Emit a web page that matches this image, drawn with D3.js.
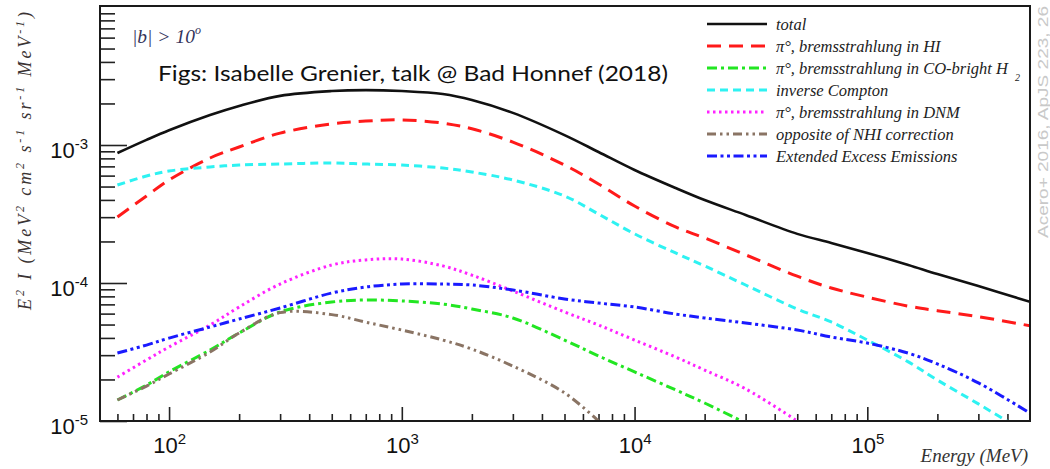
<!DOCTYPE html>
<html>
<head>
<meta charset="utf-8">
<script src="https://cdnjs.cloudflare.com/ajax/libs/d3/7.8.5/d3.min.js"></script>
<style>
body{margin:0;background:#fff}
svg{display:block}
.serif{font-family:"Liberation Serif","Times New Roman",serif;font-style:italic}
.ticklab{font-family:"Liberation Sans",Arial,sans-serif}
</style>
</head>
<body>
<svg id="chart" width="1050" height="469"></svg>
<script>
// energies (MeV) and E^2 I values
var energies = [60, 80, 100, 150, 200, 300, 500, 700, 1000, 1500, 2000, 3000, 5000, 7000, 1e4, 1.5e4, 2e4, 3e4, 5e4, 7e4, 1e5, 1.5e5, 2e5, 3e5, 5e5]

var totalFlux = [8.75e-4, 1.09e-3, 1.28e-3, 1.65e-3, 1.92e-3, 2.27e-3, 2.46e-3, 2.50e-3, 2.46e-3, 2.34e-3, 2.12e-3, 1.71e-3, 1.18e-3, 8.9e-4, 6.59e-4, 4.88e-4, 3.99e-4, 3.11e-4, 2.27e-4, 1.95e-4, 1.65e-4, 1.35e-4, 1.16e-4, 9.5e-5, 7.3e-5]
var hiFlux = [3.01e-4, 4.27e-4, 5.58e-4, 8.05e-4, 9.67e-4, 1.22e-3, 1.42e-3, 1.49e-3, 1.52e-3, 1.44e-3, 1.31e-3, 1.05e-3, 7.16e-4, 5.22e-4, 3.61e-4, 2.55e-4, 2.12e-4, 1.60e-4, 1.12e-4, 9.2e-5, 7.9e-5, 6.8e-5, 6.3e-5, 5.7e-5, 4.9e-5]
var coFlux = [1.42e-5, 1.82e-5, 2.27e-5, 3.27e-5, 4.34e-5, 6.17e-5, 7.28e-5, 7.53e-5, 7.41e-5, 7.04e-5, 6.48e-5, 5.58e-5, 3.86e-5, 2.96e-5, 2.27e-5, 1.68e-5, 1.35e-5, 9.67e-6, null, null, null, null, null, null, null]
var icFlux = [5.13e-4, 5.96e-4, 6.48e-4, 6.93e-4, 7.16e-4, 7.28e-4, 7.41e-4, 7.28e-4, 7.16e-4, 6.81e-4, 6.37e-4, 5.58e-4, 4.27e-4, 3.16e-4, 2.27e-4, 1.65e-4, 1.33e-4, 9.67e-5, 6.48e-5, 5.22e-5, 3.86e-5, 2.68e-5, 1.98e-5, 1.33e-5, 7.9e-6]
var dnmFlux = [2.08e-5, 2.77e-5, 3.44e-5, 4.96e-5, 6.70e-5, 9.83e-5, 1.35e-4, 1.47e-4, 1.49e-4, 1.33e-4, 1.14e-4, 8.75e-5, 6.17e-5, 4.96e-5, 3.86e-5, 2.91e-5, 2.34e-5, 1.71e-5, 1.0e-5, null, null, null, null, null, null]
var nhiFlux = [1.42e-5, 1.79e-5, 2.19e-5, 3.16e-5, 4.34e-5, 6.1e-5, 5.9e-5, 5.2e-5, 4.56e-5, 3.86e-5, 3.32e-5, 2.50e-5, 1.60e-5, 1.0e-5, null, null, null, null, null, null, null, null, null, null, null]
var excessFlux = [3.11e-5, 3.55e-5, 3.99e-5, 4.80e-5, 5.48e-5, 6.59e-5, 8.46e-5, 9.35e-5, 9.83e-5, 9.83e-5, 9.67e-5, 8.90e-5, 7.66e-5, 7.16e-5, 6.70e-5, 5.96e-5, 5.58e-5, 5.13e-5, 4.56e-5, 4.06e-5, 3.67e-5, 3.10e-5, 2.59e-5, 1.89e-5, 1.14e-5]

var legendLabels = ['total', 'π°, bremsstrahlung in HI', 'π°, bremsstrahlung in CO-bright H', 'inverse Compton', 'π°, bremsstrahlung in DNM', 'opposite of NHI correction', 'Extended Excess Emissions']
var yTickExps = [-5, -4, -3]
var xTickExps = [2, 3, 4, 5]

var seriesValues = [totalFlux, hiFlux, coFlux, icFlux, dnmFlux, nhiFlux, excessFlux]
var styles = [
  {color:'#111', dash:null, width:2.6},
  {color:'#ff1a1a', dash:'14,8', width:3},
  {color:'#22e622', dash:'10,4,3,4', width:3},
  {color:'#2ef2f2', dash:'8,5', width:3},
  {color:'#ff22ff', dash:'2.5,3.5', width:3},
  {color:'#8a7464', dash:'9,4,2.5,4,2.5,4', width:3},
  {color:'#1a1aff', dash:'10,3.5,3,3.5,3,3.5', width:3}
]

var svg = d3.select('#chart')
var x = d3.scaleLog().domain([50, 5e5]).range([99, 1030])
var y = d3.scaleLog().domain([1e-5, 1e-2]).range([421, 7])

svg.append('defs').append('clipPath').attr('id','plotclip')
  .append('rect').attr('x',100).attr('y',6).attr('width',930).attr('height',415)

// minor / major tick values
var yMinor = []
yTickExps.forEach(function(e){ for (var m=2;m<10;m++){ yMinor.push(m*Math.pow(10,e)) } })
var xMinor = [60,70,80,90]
xTickExps.forEach(function(e){ for (var m=2;m<10;m++){ var v=m*Math.pow(10,e); if (v<5e5) xMinor.push(v) } })

function supLabel(sel, exp){
  sel.text(null)
  sel.append('tspan').text('10')
  sel.append('tspan').attr('dy',-9).attr('font-size',15).text(exp)
}

var yMinorAxis = svg.append('g').attr('transform','translate(100,0)')
  .call(d3.axisLeft(y).tickValues(yMinor).tickSize(-15).tickFormat(''))
var yMajorAxis = svg.append('g').attr('transform','translate(100,0)')
  .call(d3.axisLeft(y).tickValues(yTickExps.map(function(e){return Math.pow(10,e)})).tickSize(-27).tickPadding(12)
    .tickFormat(function(d){return Math.round(Math.log10(d))}))
yMajorAxis.selectAll('text').attr('class','ticklab').attr('font-size',22).attr('fill','#111')
  .attr('x',-12).attr('dy','0.55em')
  .each(function(d){ supLabel(d3.select(this), String(Math.round(Math.log10(d)))) })

var xMinorAxis = svg.append('g').attr('transform','translate(0,421)')
  .call(d3.axisBottom(x).tickValues(xMinor).tickSize(-7).tickFormat(''))
var xMajorAxis = svg.append('g').attr('transform','translate(0,421)')
  .call(d3.axisBottom(x).tickValues(xTickExps.map(function(e){return Math.pow(10,e)})).tickSize(-14).tickPadding(12)
    .tickFormat(function(d){return Math.round(Math.log10(d))}))
xMajorAxis.selectAll('text').attr('class','ticklab').attr('font-size',22).attr('fill','#111')
  .attr('y',14).attr('dy','0.8em')
  .each(function(d){ supLabel(d3.select(this), String(Math.round(Math.log10(d)))) })

svg.selectAll('.domain').remove()
svg.selectAll('.tick line').attr('stroke','#222').attr('stroke-width',1.6)

// curves
var line = d3.line()
  .defined(function(d){return d.v != null})
  .x(function(d){return x(d.e)})
  .y(function(d){return y(d.v)})
  .curve(d3.curveCatmullRom.alpha(0.5))

var plot = svg.append('g').attr('clip-path','url(#plotclip)')
seriesValues.forEach(function(vals, i){
  var pts = energies.map(function(e, j){ return {e:e, v:vals[j]} })
  plot.append('path').datum(pts)
    .attr('d', line)
    .attr('fill','none')
    .attr('stroke', styles[i].color)
    .attr('stroke-width', styles[i].width)
    .attr('stroke-dasharray', styles[i].dash)
})

// frame
svg.append('rect').attr('x',100).attr('y',6).attr('width',930).attr('height',415)
  .attr('fill','none').attr('stroke','#1a1a1a').attr('stroke-width',2)

// legend
var legend = svg.append('g')
legendLabels.forEach(function(lab, i){
  var ly = 24 + i*22
  legend.append('line').attr('x1',707).attr('x2',767).attr('y1',ly).attr('y2',ly)
    .attr('stroke', styles[i].color).attr('stroke-width', styles[i].width)
    .attr('stroke-dasharray', styles[i].dash)
  var t = legend.append('text').attr('class','serif').attr('x',776).attr('y',ly).attr('dy','0.35em')
    .attr('font-size',16.5).attr('fill','#222').text(lab)
  if (i == 2){ t.append('tspan').attr('dx',7).attr('dy',7).attr('font-size',10).text('2') }
})

// annotations
var bt = svg.append('text').attr('class','serif').attr('x',132).attr('y',43).attr('font-size',19.5).attr('fill','#33335a').text('|b| > 10')
bt.append('tspan').attr('dy',-9).attr('font-size',12).text('o')

svg.append('text').attr('x',158).attr('y',81).attr('font-family','Lato, "Open Sans", sans-serif')
  .attr('font-size',21).attr('fill','#111').attr('textLength',510).attr('lengthAdjust','spacingAndGlyphs')
  .text('Figs: Isabelle Grenier, talk @ Bad Honnef (2018)')

svg.append('text').attr('transform','translate(1048,238) rotate(-90)')
  .attr('font-family','"Liberation Sans", Arial, sans-serif').attr('font-size',15)
  .attr('fill','#c9c9c9').attr('textLength',232).attr('lengthAdjust','spacingAndGlyphs')
  .text('Acero+ 2016, ApJS 223, 26')

// axis titles
var yt = svg.append('text').attr('class','serif').attr('transform','translate(31,310) rotate(-90)')
  .attr('font-size',18).attr('fill','#3a3333').attr('textLength',298).attr('lengthAdjust','spacing')
var ytParts = [['E',0],['2',1],[' I (MeV',0],['2',1],[' cm',0],['2',1],[' s',0],['-1',1],[' sr',0],['-1',1],[' MeV',0],['-1',1],[')',0]]
var lastSup = 0
ytParts.forEach(function(p){
  var dy = p[1] ? -7 : (lastSup ? 7 : 0)
  yt.append('tspan').attr('dy',dy).attr('font-size', p[1] ? 12 : 18).text(p[0])
  lastSup = p[1]
})

svg.append('text').attr('class','serif').attr('x',1028).attr('y',462).attr('text-anchor','end')
  .attr('font-size',19).attr('fill','#333').text('Energy (MeV)')
</script>
</body>
</html>
